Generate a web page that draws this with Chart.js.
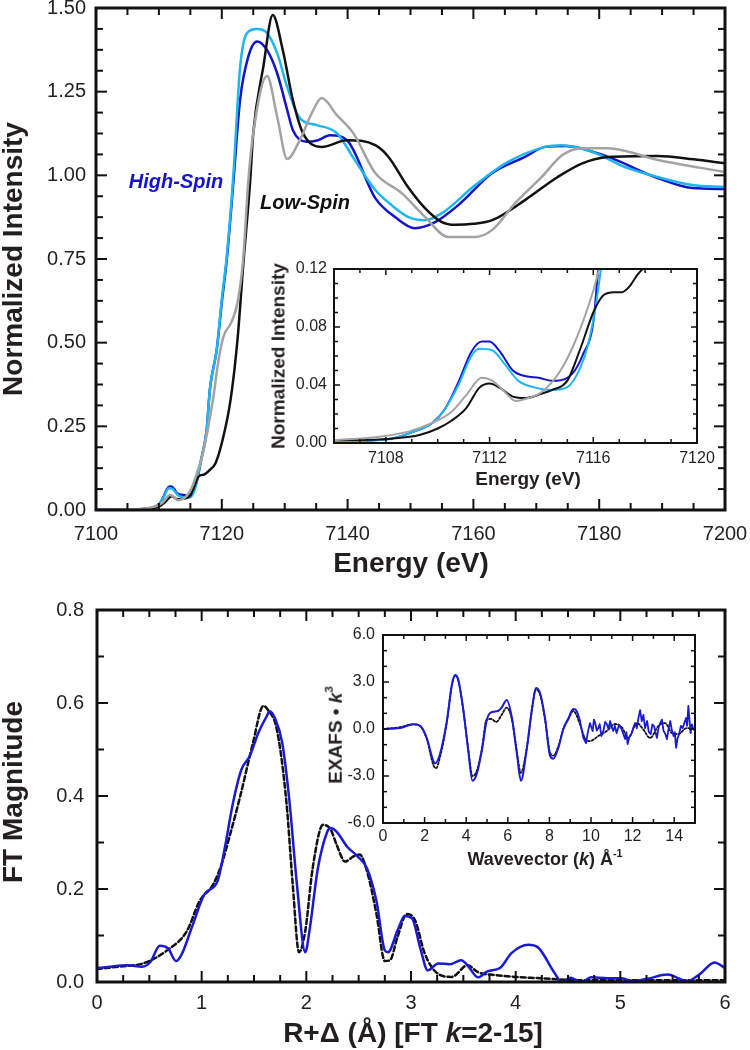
<!DOCTYPE html>
<html><head><meta charset="utf-8">
<script src="https://cdn.jsdelivr.net/npm/chart.js@4/dist/chart.umd.min.js"></script>
<style>
html,body{margin:0;padding:0;background:#fff;overflow:hidden;width:750px;height:1050px;}
#wrap{position:relative;width:750px;height:1050px;overflow:hidden;}
canvas{position:absolute;}
.t{position:absolute;white-space:nowrap;line-height:1;font-family:'Liberation Sans',Arial,sans-serif;font-weight:bold;color:#231f20;transform:translate(-50%,-50%);}
.r{transform:translate(-50%,-50%) rotate(-90deg);}
.sup{font-size:0.6em;vertical-align:0.75em;}
</style></head><body><div id="wrap">
<canvas id="cXanes" width="770" height="570" style="left:0;top:-20px"></canvas>
<canvas id="cPre" width="480" height="230" style="left:262px;top:249px"></canvas>
<canvas id="cFT" width="770" height="445" style="left:0;top:585px"></canvas>
<canvas id="cEx" width="440" height="235" style="left:300px;top:615px"></canvas>

<div class="t r" style="left:13px;top:259px;font-size:28px">Normalized Intensity</div>
<div class="t" style="left:411px;top:563px;font-size:28px">Energy (eV)</div>
<div class="t" style="left:176px;top:181px;font-size:20px;font-style:italic;color:#1414c8">High-Spin</div>
<div class="t" style="left:305px;top:202px;font-size:20px;font-style:italic;color:#111">Low-Spin</div>
<div class="t r" style="left:278px;top:356px;font-size:19px">Normalized Intensity</div>
<div class="t" style="left:528px;top:478px;font-size:19px">Energy (eV)</div>
<div class="t r" style="left:13px;top:792px;font-size:28px">FT Magnitude</div>
<div class="t" style="left:413px;top:1033px;font-size:28px">R+Δ (Å) [FT <i>k</i>=2-15]</div>
<div class="t r" style="left:334px;top:735px;font-size:19px">EXAFS • <i>k</i><span class="sup">3</span></div>
<div class="t" style="left:545px;top:858px;font-size:18px">Wavevector (<i>k</i>) Å<span class="sup">-1</span></div>
</div>
<script>
// ---------- XANES main (energy eV, normalized intensity) ----------
const lsE = [7100,7105,7108,7110,7111,7112,7113,7114,7115,7115.5,7116,7116.5,7117.2,7118,7119,7120,7121.4,7122.5,7123.4,7124.5,7125,7126.6,7128.1,7129.7,7131.3,7132.9,7135.9,7139.9,7144.4,7146.5,7149.6,7152.3,7155,7157.1,7160,7163,7168.2,7173.4,7177.3,7181.4,7189.3,7195,7200];
const lsI = [0,0.001,0.004,0.01,0.024,0.041,0.032,0.034,0.043,0.065,0.09,0.103,0.106,0.118,0.14,0.2,0.33,0.51,0.73,0.98,1.126,1.324,1.479,1.374,1.225,1.126,1.085,1.105,1.09,1.055,0.965,0.902,0.86,0.852,0.855,0.866,0.926,0.995,1.036,1.055,1.058,1.048,1.036];
const grE = [7100,7105,7107.6,7108.9,7109.8,7110.5,7111.1,7111.7,7112.1,7112.6,7113,7113.5,7114,7114.7,7115.3,7116,7117,7118.6,7119.5,7120.3,7121.5,7122.5,7123.4,7124.2,7125,7127.2,7128.8,7130.4,7132.4,7134.3,7135.9,7138.3,7140.9,7144.4,7148.6,7152.3,7156,7160.3,7163,7166.6,7170.9,7174.1,7177.3,7181.4,7189.3,7200];
const grI = [0,0.002,0.004,0.008,0.014,0.021,0.033,0.045,0.043,0.035,0.029,0.031,0.035,0.049,0.07,0.107,0.17,0.33,0.45,0.52,0.56,0.62,0.75,0.98,1.126,1.297,1.175,1.049,1.105,1.186,1.231,1.18,1.126,1.007,0.947,0.876,0.816,0.816,0.837,0.916,0.996,1.06,1.081,1.081,1.046,1.01];
const cyE = [7100,7105,7108.2,7109.1,7109.8,7110.3,7110.8,7111.3,7111.6,7112.1,7112.6,7113.1,7113.8,7114.4,7115,7115.5,7115.8,7116.1,7116.6,7117.6,7118.1,7119.2,7120,7120.8,7121.8,7122.9,7124,7125.6,7127.2,7128.8,7130.4,7132.4,7135.1,7138.3,7141,7144.4,7147,7149.6,7152.3,7155,7160.3,7165.5,7171.4,7174.1,7178.9,7184.1,7189.3,7194.8,7200];
const cyI = [0,0.002,0.003,0.008,0.014,0.024,0.04,0.06,0.065,0.064,0.054,0.043,0.038,0.0365,0.0385,0.052,0.068,0.095,0.14,0.24,0.36,0.48,0.63,0.76,0.99,1.32,1.425,1.437,1.425,1.365,1.264,1.171,1.15,1.126,1.05,0.956,0.911,0.876,0.866,0.887,0.971,1.04,1.085,1.09,1.07,1.025,0.995,0.971,0.965];
const hsE = [7100,7105,7108.2,7109.1,7109.8,7110.3,7110.8,7111.3,7111.7,7112,7112.4,7112.9,7113.4,7113.9,7114.4,7114.6,7115.2,7115.6,7116,7116.6,7117.6,7118.1,7119.2,7120,7120.8,7121.8,7122.9,7124.2,7125.6,7127.2,7128.8,7130.4,7131.3,7133.5,7135.3,7137.2,7139.9,7144.4,7147.5,7150.7,7153.9,7157.6,7163,7168.2,7171.4,7174.6,7181.4,7189.3,7194.8,7200];
const hsI = [0,0.002,0.003,0.008,0.014,0.024,0.042,0.063,0.07,0.07,0.063,0.05,0.046,0.045,0.043,0.043,0.048,0.061,0.083,0.14,0.24,0.36,0.48,0.62,0.75,0.97,1.225,1.354,1.40,1.374,1.305,1.195,1.135,1.10,1.105,1.12,1.105,0.932,0.876,0.842,0.86,0.911,1.007,1.055,1.085,1.088,1.055,0.992,0.962,0.959];
const xanesXTicks = [7100,7120,7140,7160,7180,7200];
const xanesYTicks = [0,0.25,0.5,0.75,1.0,1.25,1.5];

// ---------- pre-edge inset ----------
const preLsE = [7106,7107,7108.2,7109.3,7110,7110.5,7111.1,7111.6,7112,7112.4,7112.9,7113.4,7114,7114.4,7115,7115.5,7116,7116.4,7116.8,7117.1,7117.4,7117.7,7118,7118.5];
const preLsI = [0.002,0.002,0.003,0.0055,0.01,0.015,0.024,0.038,0.041,0.038,0.032,0.031,0.034,0.0365,0.043,0.065,0.09,0.102,0.104,0.104,0.108,0.116,0.122,0.135];
const preGrE = [7106,7107.6,7108.9,7109.8,7110.5,7111.1,7111.7,7112.1,7112.6,7113,7113.5,7114,7114.7,7115.3,7116,7116.3,7116.6];
const preGrI = [0.002,0.004,0.008,0.014,0.021,0.033,0.045,0.043,0.035,0.029,0.031,0.035,0.049,0.07,0.105,0.125,0.145];
const preCyE = [7106,7108.2,7109.1,7109.8,7110.3,7110.8,7111.3,7111.6,7112.1,7112.6,7113.1,7113.8,7114.4,7115,7115.5,7115.8,7116.1,7116.3,7116.6];
const preCyI = [0.001,0.003,0.008,0.014,0.024,0.040,0.06,0.065,0.064,0.054,0.043,0.038,0.0365,0.0385,0.052,0.068,0.095,0.12,0.15];
const preHsE = [7106,7108.2,7109.1,7109.8,7110.3,7110.8,7111.3,7111.7,7112,7112.4,7112.9,7113.4,7113.9,7114.4,7114.6,7115.2,7115.6,7116,7116.2,7116.5];
const preHsI = [0.001,0.003,0.008,0.014,0.024,0.042,0.063,0.07,0.07,0.063,0.05,0.046,0.045,0.043,0.043,0.048,0.061,0.083,0.121,0.15];
const preXTicks = [7108,7112,7116,7120];
const preYTicks = [0,0.04,0.08,0.12];

// ---------- Fourier transform ----------
const ftR = [0,0.1,0.29,0.43,0.51,0.6,0.68,0.755,0.81,0.91,1.03,1.15,1.22,1.3,1.38,1.46,1.54,1.62,1.65,1.7,1.77,1.84,1.91,1.99,2.03,2.11,2.2,2.23,2.29,2.39,2.49,2.58,2.67,2.75,2.78,2.87,2.94,3.01,3.09,3.16,3.26,3.37,3.48,3.54,3.64,3.73,3.85,3.96,4.12,4.21,4.37,4.44,4.52,4.63,4.72,4.88,5.01,5.11,5.26,5.45,5.64,5.76,5.9,6.0];
const ftData = [0.03,0.032,0.036,0.033,0.043,0.078,0.072,0.045,0.06,0.12,0.19,0.216,0.287,0.386,0.457,0.486,0.535,0.571,0.582,0.567,0.514,0.386,0.21,0.064,0.11,0.244,0.323,0.331,0.323,0.291,0.27,0.244,0.174,0.068,0.064,0.11,0.142,0.137,0.072,0.025,0.04,0.038,0.047,0.036,0.01,0.023,0.03,0.062,0.08,0.075,0.02,0.0,0.009,0.0,0.01,0.008,0.008,0.002,0.007,0.016,0.002,0.017,0.042,0.03];
const fitR = [0,0.25,0.44,0.67,0.86,0.98,1.11,1.19,1.27,1.37,1.49,1.59,1.63,1.72,1.81,1.87,1.93,1.99,2.06,2.16,2.23,2.29,2.37,2.45,2.51,2.58,2.67,2.75,2.8,2.87,2.96,3.04,3.13,3.25,3.39,3.54,3.64,3.8,3.99,4.25,4.57,5.2,6.0];
const ftFit = [0.028,0.034,0.04,0.068,0.11,0.174,0.21,0.253,0.316,0.401,0.514,0.594,0.586,0.541,0.386,0.21,0.064,0.11,0.244,0.338,0.329,0.295,0.259,0.27,0.274,0.238,0.146,0.045,0.047,0.096,0.146,0.132,0.062,0.019,0.011,0.036,0.021,0.015,0.011,0.008,0.004,0.004,0.004];
const ftXTicks = [0,1,2,3,4,5,6];
const ftYTicks = [0,0.2,0.4,0.6,0.8];

// ---------- EXAFS inset ----------
const exK = [0,0.82,1.46,1.78,2.1,2.42,2.5,2.74,3.07,3.32,3.47,3.61,3.85,4.1,4.3,4.5,4.75,4.98,5.15,5.53,5.7,5.95,6.2,6.44,6.63,6.9,7.17,7.35,7.55,7.79,8.03,8.19,8.43,8.67,8.9,9.15,9.31,9.47,9.63,9.76,9.85,9.95,10.02,10.08,10.14,10.2,10.28,10.35,10.42,10.5,10.6,10.68,10.76,10.84,10.92,11.0,11.07,11.15,11.23,11.35,11.47,11.55,11.64,11.7,11.76,11.85,11.96,12.04,12.12,12.2,12.28,12.36,12.44,12.52,12.6,12.7,12.78,12.87,12.95,13.03,13.1,13.17,13.25,13.33,13.41,13.49,13.57,13.65,13.73,13.81,13.89,13.97,14.03,14.09,14.16,14.24,14.32,14.41,14.49,14.57,14.62,14.68,14.74,14.79,14.85,14.92,15];
const exData = [0,0.07,0.3,0.2,-0.57,-2.04,-2.2,-1.6,0.51,2.87,3.45,3.19,1.34,-1.4,-3.3,-2.9,-1.4,0.51,1.02,1.15,1.36,1.85,0.7,-1.6,-3.3,-1.4,1.36,2.62,2.3,0.7,-1.7,-1.9,-1.2,0,0.64,1.27,1.15,0.51,-0.57,-0.9,-0.2,0.38,0.1,-0.13,0.6,0.38,-0.1,0.06,0.3,-0.45,-0.1,0.45,0.32,0,0.51,0.1,-0.13,0.2,-0.26,0.25,0,-0.3,-0.64,-0.2,-0.96,-0.5,-0.26,0.1,0.38,0.05,0.7,1.2,0.5,0.9,0.06,0.51,-0.2,-0.32,0.3,0.19,-0.2,-0.57,0.1,0.38,0.6,-0.13,-0.3,-0.64,0,0.51,-0.1,-0.45,-0.2,-1.2,-0.6,-0.32,0.2,0.06,0.4,0.7,0.2,1.47,0.5,-0.26,0.3,0,-0.13];
const exFitK = [0,0.82,1.46,1.78,2.1,2.42,2.55,2.74,3.07,3.32,3.47,3.61,3.85,4.1,4.3,4.5,4.75,4.98,5.2,5.45,5.7,5.95,6.2,6.44,6.63,6.9,7.17,7.35,7.55,7.79,8.03,8.19,8.43,8.67,8.9,9.15,9.47,9.7,9.95,10.35,10.76,11.15,11.47,11.8,12.2,12.5,12.84,13.24,13.56,13.89,14.2,14.6,15];
const exFit = [0,0.12,0.3,0.2,-0.6,-2.3,-2.5,-1.8,0.45,2.87,3.4,3.15,1.3,-1.3,-3.0,-2.7,-1.3,0.6,0.64,0.45,0.9,1.36,0.6,-1.5,-2.8,-1.3,1.3,2.5,2.2,0.6,-1.5,-1.7,-1.1,0,0.6,1.15,0.3,-0.57,-0.77,-0.45,-0.13,0.32,0.13,-0.57,0.38,0,-0.57,0.19,0.38,-0.26,-0.32,0.06,0];
const exXTicks = [0,2,4,6,8,10,12,14];
const exYTicks = [-6,-3,0,3,6];
const exNoiseStart = 9.47;

// ---------- helpers ----------
const FONT = "'Liberation Sans', Arial, sans-serif";
const pts = (xs, ys) => xs.map((x, i) => ({x: x, y: ys[i]}));

const framePlugin = {
  id: 'frame',
  beforeDatasetsDraw(chart) {
    const {ctx, chartArea: a} = chart;
    ctx.save(); ctx.fillStyle = '#fff';
    ctx.fillRect(a.left, a.top, a.right - a.left, a.bottom - a.top); ctx.restore();
  },
  afterDatasetsDraw(chart, args, o) {
    const {ctx, chartArea: a} = chart;
    const x = chart.scales.x, y = chart.scales.y;
    ctx.save();
    ctx.strokeStyle = '#111'; ctx.lineWidth = o.tickWidth; ctx.lineCap = 'butt';
    const seg = (x1, y1, x2, y2) => { ctx.beginPath(); ctx.moveTo(x1, y1); ctx.lineTo(x2, y2); ctx.stroke(); };
    const tx = (v, len) => { const p = x.getPixelForValue(v); seg(p, a.bottom, p, a.bottom - len); seg(p, a.top, p, a.top + len); };
    const ty = (v, len) => { const p = y.getPixelForValue(v); seg(a.left, p, a.left + len, p); seg(a.right, p, a.right - len, p); };
    const minors = (min, max, step, majors, fn) => {
      const n = Math.round((max - min) / step);
      for (let i = 0; i <= n; i++) {
        const v = min + i * step;
        if (!majors.some(m => Math.abs(m - v) < step * 1e-3)) fn(v, o.minorLen);
      }
    };
    minors(x.min, x.max, o.xMinor, o.xMajor, tx);
    minors(y.min, y.max, o.yMinor, o.yMajor, ty);
    o.xMajor.forEach(v => tx(v, o.majorLen));
    o.yMajor.forEach(v => ty(v, o.majorLen));
    ctx.lineWidth = o.border;
    ctx.strokeRect(a.left, a.top, a.right - a.left, a.bottom - a.top);
    ctx.restore();
  }
};

function makeChart(id, spec) {
  const ax = (min, max, ticks, fit, pad, size, dec) => ({
    type: 'linear', min: min, max: max,
    grid: {display: false, drawTicks: false}, border: {display: false},
    afterBuildTicks: s => { s.ticks = ticks.map(v => ({value: v})); },
    afterFit: fit,
    ticks: {padding: pad, color: '#231f20', font: {family: FONT, size: size}, callback: v => Number(v).toFixed(dec), maxRotation: 0, autoSkip: false}
  });
  return new Chart(document.getElementById(id), {
    type: 'line',
    data: {datasets: spec.datasets},
    options: {
      responsive: false, maintainAspectRatio: false, animation: false, devicePixelRatio: 1,
      layout: {padding: {top: spec.padTop, right: spec.padRight, left: 0, bottom: 0}},
      elements: {point: {radius: 0}, line: {cubicInterpolationMode: 'monotone', borderCapStyle: 'round', borderJoinStyle: 'round'}},
      plugins: {legend: {display: false}, tooltip: {enabled: false}, frame: spec.frame},
      scales: {
        x: ax(spec.xMin, spec.xMax, spec.xTicks, s => { s.height = spec.xH; }, spec.xPad, spec.font, spec.xDec),
        y: ax(spec.yMin, spec.yMax, spec.yTicks, s => { s.width = spec.yW; }, spec.yPad, spec.font, spec.yDec)
      }
    },
    plugins: [framePlugin]
  });
}

const ds = (data, color, width, dash, straight) => {
  const d = {data: data, borderColor: color, borderWidth: width, borderDash: dash || [], fill: false, parsing: false};
  if (straight) { d.cubicInterpolationMode = 'default'; d.tension = 0; }
  return d;
};

const C_BLACK = '#111111', C_GRAY = '#a3a3a3', C_CYAN = '#1fb6ee', C_BLUE = '#1414c8', C_BLUE2 = '#1a1ad2';

makeChart('cXanes', {
  padTop: 28, padRight: 45, xH: 40, yW: 96, xPad: 12, yPad: 10, font: 20,
  xMin: 7100, xMax: 7200, yMin: 0, yMax: 1.5, xTicks: xanesXTicks, yTicks: xanesYTicks, xDec: 0, yDec: 2,
  frame: {xMajor: xanesXTicks, yMajor: xanesYTicks, xMinor: 5, yMinor: 0.0625, majorLen: 11, minorLen: 7, tickWidth: 2, border: 3},
  datasets: [
    ds(pts(grE, grI), C_GRAY, 2.5),
    ds(pts(lsE, lsI), C_BLACK, 2.5),
    ds(pts(cyE, cyI), C_CYAN, 2.5),
    ds(pts(hsE, hsI), C_BLUE, 2.5)
  ]
});

makeChart('cPre', {
  padTop: 20, padRight: 45, xH: 36, yW: 72, xPad: 6, yPad: 7, font: 16,
  xMin: 7106, xMax: 7120, yMin: 0, yMax: 0.12, xTicks: preXTicks, yTicks: preYTicks, xDec: 0, yDec: 2,
  frame: {xMajor: preXTicks, yMajor: preYTicks, xMinor: 1, yMinor: 0.01, majorLen: 6, minorLen: 4, tickWidth: 1.5, border: 2},
  datasets: [
    ds(pts(preGrE, preGrI), C_GRAY, 2),
    ds(pts(preLsE, preLsI), C_BLACK, 2),
    ds(pts(preCyE, preCyI), C_CYAN, 2),
    ds(pts(preHsE, preHsI), C_BLUE, 2)
  ]
});

makeChart('cFT', {
  padTop: 20, padRight: 45, xH: 48, yW: 97, xPad: 9, yPad: 13, font: 20,
  xMin: 0, xMax: 6, yMin: 0, yMax: 0.8, xTicks: ftXTicks, yTicks: ftYTicks, xDec: 0, yDec: 1,
  frame: {xMajor: ftXTicks, yMajor: ftYTicks, xMinor: 0.25, yMinor: 0.1, majorLen: 11, minorLen: 7, tickWidth: 2, border: 3},
  datasets: [
    ds(pts(ftR, ftData), C_BLUE2, 2.5),
    ds(pts(fitR, ftFit), C_BLACK, 2.5, [5, 3])
  ]
});

const exAll = pts(exK, exData);
makeChart('cEx', {
  padTop: 20, padRight: 45, xH: 27, yW: 83, xPad: 4, yPad: 8, font: 16,
  xMin: 0, xMax: 15, yMin: -6, yMax: 6, xTicks: exXTicks, yTicks: exYTicks, xDec: 0, yDec: 1,
  frame: {xMajor: exXTicks, yMajor: exYTicks, xMinor: 1, yMinor: 1, majorLen: 6, minorLen: 4, tickWidth: 1.5, border: 2},
  datasets: [
    ds(exAll.filter(p => p.x <= exNoiseStart), C_BLUE2, 2),
    ds(exAll.filter(p => p.x >= exNoiseStart), C_BLUE2, 1.8, [], true),
    ds(pts(exFitK, exFit), C_BLACK, 1.8, [2, 2])
  ]
});
</script>
</body></html>
